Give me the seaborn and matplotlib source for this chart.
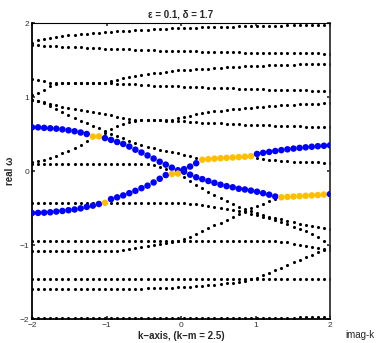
import numpy as np
import pandas as pd
import matplotlib
matplotlib.use("Agg")
import matplotlib.pyplot as plt
import seaborn as sns

k = np.linspace(-2, 2, 50)

band_a = [1.735, 1.765, 1.785, 1.80, 1.812, 1.823, 1.833, 1.842, 1.85, 1.857,
          1.864, 1.87, 1.876, 1.882, 1.887, 1.892, 1.897, 1.902, 1.906, 1.91,
          1.914, 1.918, 1.922, 1.926, 1.929, 1.932, 1.935, 1.938, 1.941, 1.944,
          1.946, 1.948, 1.95, 1.952, 1.954, 1.956, 1.958, 1.96, 1.962, 1.963,
          1.965, 1.966, 1.967, 1.969, 1.97, 1.971, 1.972, 1.973, 1.974, 1.975]
band_b = [1.705, 1.70, 1.695, 1.69, 1.686, 1.682, 1.678, 1.674, 1.67, 1.666,
          1.662, 1.658, 1.655, 1.652, 1.649, 1.646, 1.643, 1.64, 1.637, 1.634,
          1.631, 1.628, 1.626, 1.624, 1.622, 1.62, 1.618, 1.616, 1.614, 1.612,
          1.61, 1.608, 1.606, 1.604, 1.602, 1.60, 1.599, 1.598, 1.597, 1.596,
          1.595, 1.594, 1.593, 1.592, 1.591, 1.59, 1.589, 1.588, 1.587, 1.586]
band_c1 = [1.25, 1.23, 1.21, 1.195, 1.187, 1.185, 1.185, 1.185, 1.185, 1.185,
           1.185, 1.185, 1.185, 1.21, 1.235, 1.255, 1.27, 1.285, 1.30, 1.31,
           1.32, 1.33, 1.34, 1.35, 1.36, 1.365, 1.37, 1.375, 1.38, 1.385,
           1.39, 1.395, 1.40, 1.405, 1.41, 1.413, 1.416, 1.42, 1.423, 1.426,
           1.43, 1.432, 1.435, 1.438, 1.44, 1.443, 1.445, 1.447, 1.449, 1.45]
band_c2 = [1.03, 1.06, 1.10, 1.15, 1.18, 1.185, 1.185, 1.185, 1.185, 1.185,
           1.185, 1.185, 1.185, 1.183, 1.18, 1.177, 1.173, 1.17, 1.165, 1.16,
           1.155, 1.152, 1.148, 1.145, 1.142, 1.139, 1.136, 1.133, 1.13, 1.127,
           1.124, 1.121, 1.118, 1.115, 1.112, 1.11, 1.107, 1.105, 1.102, 1.10,
           1.098, 1.096, 1.094, 1.092, 1.09, 1.088, 1.086, 1.084, 1.082, 1.08]
band_d1 = [0.965, 0.95, 0.93, 0.91, 0.89, 0.87, 0.852, 0.836, 0.822, 0.808,
           0.795, 0.782, 0.768, 0.752, 0.735, 0.718, 0.703, 0.692, 0.687, 0.685,
           0.685, 0.686, 0.688, 0.695, 0.712, 0.73, 0.748, 0.765, 0.78, 0.793,
           0.805, 0.816, 0.826, 0.835, 0.843, 0.851, 0.858, 0.865, 0.871, 0.877,
           0.882, 0.887, 0.892, 0.896, 0.90, 0.904, 0.907, 0.91, 0.913, 0.916]
band_r1 = [0.115, 0.13, 0.152, 0.178, 0.208, 0.24, 0.275, 0.31, 0.35, 0.40,
           0.465, 0.468, 0.52, 0.565, 0.605, 0.64, 0.665, 0.678, 0.683, 0.684,
           0.684, 0.683, 0.682, 0.68, 0.675, 0.67, 0.665, 0.66, 0.655, 0.65,
           0.646, 0.642, 0.638, 0.634, 0.63, 0.627, 0.624, 0.621, 0.618, 0.615,
           0.612, 0.61, 0.607, 0.605, 0.603, 0.601, 0.599, 0.597, 0.595, 0.593]
band_d2 = [0.96, 0.94, 0.915, 0.88, 0.84, 0.80, 0.76, 0.72, 0.68, 0.645,
           0.61, 0.575, 0.54, 0.505, 0.47, 0.44, 0.41, 0.38, 0.355, 0.33,
           0.31, 0.29, 0.27, 0.255, 0.24, 0.222, 0.203, 0.18, 0.152, 0.16,
           0.167, 0.173, 0.178, 0.183, 0.188, 0.193, 0.20, 0.17, 0.16, 0.15,
           0.142, 0.136, 0.131, 0.127, 0.123, 0.12, 0.117, 0.115, 0.112, 0.11]
band_f1 = [0.10, 0.10, 0.10, 0.10, 0.10, 0.10, 0.10, 0.10, 0.10, 0.10,
           0.10, 0.10, 0.10, 0.10, 0.10, 0.10, 0.10, 0.10, 0.098, 0.093,
           0.082, 0.06, 0.025, -0.04, -0.035, -0.085, -0.135, -0.185, -0.235, -0.28,
           -0.325, -0.37, -0.41, -0.45, -0.485, -0.515, -0.545, -0.57, -0.595, -0.62,
           -0.635, -0.65, -0.67, -0.69, -0.71, -0.73, -0.745, -0.76, -0.775, -0.785]
band_f2 = [-0.43, -0.43, -0.43, -0.43, -0.43, -0.43, -0.43, -0.43, -0.43, -0.43,
           -0.43, -0.43, -0.43, -0.43, -0.43, -0.43, -0.43, -0.43, -0.43, -0.43,
           -0.43, -0.43, -0.43, -0.43, -0.43, -0.435, -0.44, -0.45, -0.46, -0.47,
           -0.48, -0.495, -0.51, -0.525, -0.54, -0.56, -0.575, -0.595, -0.615, -0.635,
           -0.66, -0.69, -0.72, -0.75, -0.78, -0.815, -0.85, -0.895, -0.95, -1.01]
band_l4 = [-0.95, -0.95, -0.95, -0.95, -0.95, -0.95, -0.95, -0.95, -0.95, -0.95,
           -0.95, -0.95, -0.95, -0.95, -0.95, -0.95, -0.95, -0.95, -0.95, -0.95,
           -0.95, -0.945, -0.94, -0.94, -0.945, -0.95, -0.95, -0.95, -0.95, -0.95,
           -0.95, -0.95, -0.95, -0.95, -0.95, -0.95, -0.95, -0.95, -0.95, -0.95,
           -0.95, -0.955, -0.965, -0.98, -0.995, -1.01, -1.03, -1.045, -1.06, -1.07]
band_l5 = [-1.085, -1.085, -1.085, -1.085, -1.085, -1.085, -1.085, -1.085, -1.085, -1.085,
           -1.085, -1.085, -1.085, -1.083, -1.075, -1.065, -1.055, -1.04, -1.03, -1.015,
           -1.0, -0.985, -0.97, -0.955, -0.94, -0.92, -0.89, -0.855, -0.815, -0.775,
           -0.735, -0.70, -0.66, -0.62, -0.58, -0.54, -0.505, -0.47, -0.44, -0.41,
           -0.375, -0.355, -0.35, -0.345, -0.34, -0.335, -0.33, -0.325, -0.318, -0.312]
band_l3 = [-1.46, -1.46, -1.46, -1.46, -1.46, -1.46, -1.46, -1.46, -1.46, -1.46,
           -1.46, -1.46, -1.46, -1.46, -1.46, -1.46, -1.46, -1.46, -1.46, -1.46,
           -1.46, -1.46, -1.46, -1.46, -1.46, -1.46, -1.46, -1.46, -1.46, -1.46,
           -1.46, -1.46, -1.46, -1.458, -1.456, -1.455, -1.455, -1.456, -1.458, -1.46,
           -1.46, -1.46, -1.46, -1.46, -1.46, -1.46, -1.46, -1.46, -1.46, -1.46]
band_l2 = [-1.59, -1.59, -1.59, -1.59, -1.59, -1.59, -1.59, -1.59, -1.59, -1.59,
           -1.59, -1.59, -1.59, -1.59, -1.59, -1.59, -1.59, -1.59, -1.588, -1.585,
           -1.583, -1.58, -1.578, -1.575, -1.572, -1.568, -1.563, -1.558, -1.552, -1.545,
           -1.537, -1.528, -1.518, -1.507, -1.495, -1.48, -1.465, -1.44, -1.41, -1.375,
           -1.34, -1.305, -1.27, -1.235, -1.2, -1.165, -1.13, -1.10, -1.07, -1.04]
band_l1 = [-1.98, -1.98, -1.98, -1.98, -1.98, -1.98, -1.98, -1.98, -1.98, -1.98,
           -1.98, -1.98, -1.98, -1.98, -1.98, -1.98, -1.98, -1.98, -1.98, -1.98,
           -1.98, -1.98, -1.98, -1.98, -1.98, -1.98, -1.98, -1.98, -1.98, -1.98,
           -1.98, -1.98, -1.98, -1.98, -1.98, -1.98, -1.98, -1.98, -1.98, -1.98,
           -1.98, -1.98, -1.98, -1.98, -1.977, -1.975, -1.972, -1.97, -1.968, -1.965]

mode_1 = [0.59, 0.59, 0.583, 0.577, 0.572, 0.562, 0.55, 0.537, 0.52, 0.50,
          0.465, 0.468, 0.445, 0.42, 0.392, 0.365, 0.33, 0.288, 0.25, 0.21,
          0.168, 0.125, 0.086, 0.045, 0.01, -0.01, -0.05, -0.085, -0.11, -0.135,
          -0.16, -0.185, -0.205, -0.22, -0.24, -0.25, -0.265, -0.28, -0.30, -0.32,
          -0.345, -0.355, -0.35, -0.345, -0.34, -0.335, -0.33, -0.325, -0.318, -0.312]
mode_2 = [-0.568, -0.566, -0.563, -0.558, -0.548, -0.54, -0.53, -0.52, -0.505, -0.485,
          -0.468, -0.446, -0.43, -0.38, -0.356, -0.33, -0.30, -0.268, -0.232, -0.198,
          -0.155, -0.105, -0.055, -0.04, -0.035, 0.025, 0.06, 0.105, 0.152, 0.16,
          0.167, 0.173, 0.178, 0.183, 0.188, 0.193, 0.20, 0.23, 0.245, 0.258,
          0.27, 0.282, 0.293, 0.303, 0.312, 0.32, 0.328, 0.335, 0.341, 0.347]
complex_idx_1 = [10, 11, 41, 42, 43, 44, 45, 46, 47, 48]
complex_idx_2 = [12, 23, 24, 28, 29, 30, 31, 32, 33, 34, 35, 36]

black_bands = [band_a, band_b, band_c1, band_c2, band_d1, band_r1, band_d2,
               band_f1, band_f2, band_l4, band_l5, band_l3, band_l2, band_l1]
df_black = pd.DataFrame({
    "k": np.tile(k, len(black_bands)),
    "w": np.concatenate([np.asarray(b, float) for b in black_bands]),
})

kind_1 = ["complex" if i in complex_idx_1 else "real" for i in range(len(k))]
kind_2 = ["complex" if i in complex_idx_2 else "real" for i in range(len(k))]
df_modes = pd.DataFrame({
    "k": np.concatenate([k, k]),
    "w": np.concatenate([mode_1, mode_2]),
    "kind": kind_1 + kind_2,
})

sns.set_theme(style="white")
plt.rcParams['font.family'] = ['Liberation Sans', 'DejaVu Sans']

fig = plt.figure(figsize=(3.78, 3.43), dpi=100)
ax = fig.add_axes([32/378, 1-319/343, 298/378, 296/343])

sns.scatterplot(data=df_black, x="k", y="w", ax=ax, color="black", s=5,
                linewidth=0, legend=False, zorder=2)
sns.scatterplot(data=df_modes, x="k", y="w", hue="kind", ax=ax,
                palette={"real": "#0000FF", "complex": "#FFBF00"}, s=22,
                linewidth=0, legend=False, zorder=3)

ax.set_xlim(-2, 2)
ax.set_ylim(-2, 2)
ax.set_xticks([-2, -1, 0, 1, 2])
ax.set_yticks([-2, -1, 0, 1, 2])
ax.set_xticklabels(["\u22122", "\u22121", "0", "1", "2"])
ax.set_yticklabels(["\u22122", "\u22121", "0", "1", "2"])
ax.tick_params(axis="both", direction="in", length=2, labelsize=6, colors="#333333",
               top=True, right=True, bottom=True, left=True)
ax.tick_params(axis="x", pad=2.5)
ax.tick_params(axis="y", pad=2)
for name, s in ax.spines.items():
    s.set_color("black")
    s.set_linewidth(0.8 if name == "top" else 1.3)
ax.spines["right"].set_color("#333333")
ax.set_title("\u03b5 = 0.1, \u03b4 = 1.7", fontsize=7, fontweight="bold", pad=4)
ax.set_xlabel("k\u2212axis, (k\u2212m = 2.5)", fontsize=7, fontweight="bold", labelpad=1)
ax.set_ylabel("real \u03c9", fontsize=7, fontweight="bold", labelpad=3)
fig.text(345/378, 1-335/343, "imag-k", fontsize=7, ha="left", va="center")

fig.savefig("out.png", dpi=100)
